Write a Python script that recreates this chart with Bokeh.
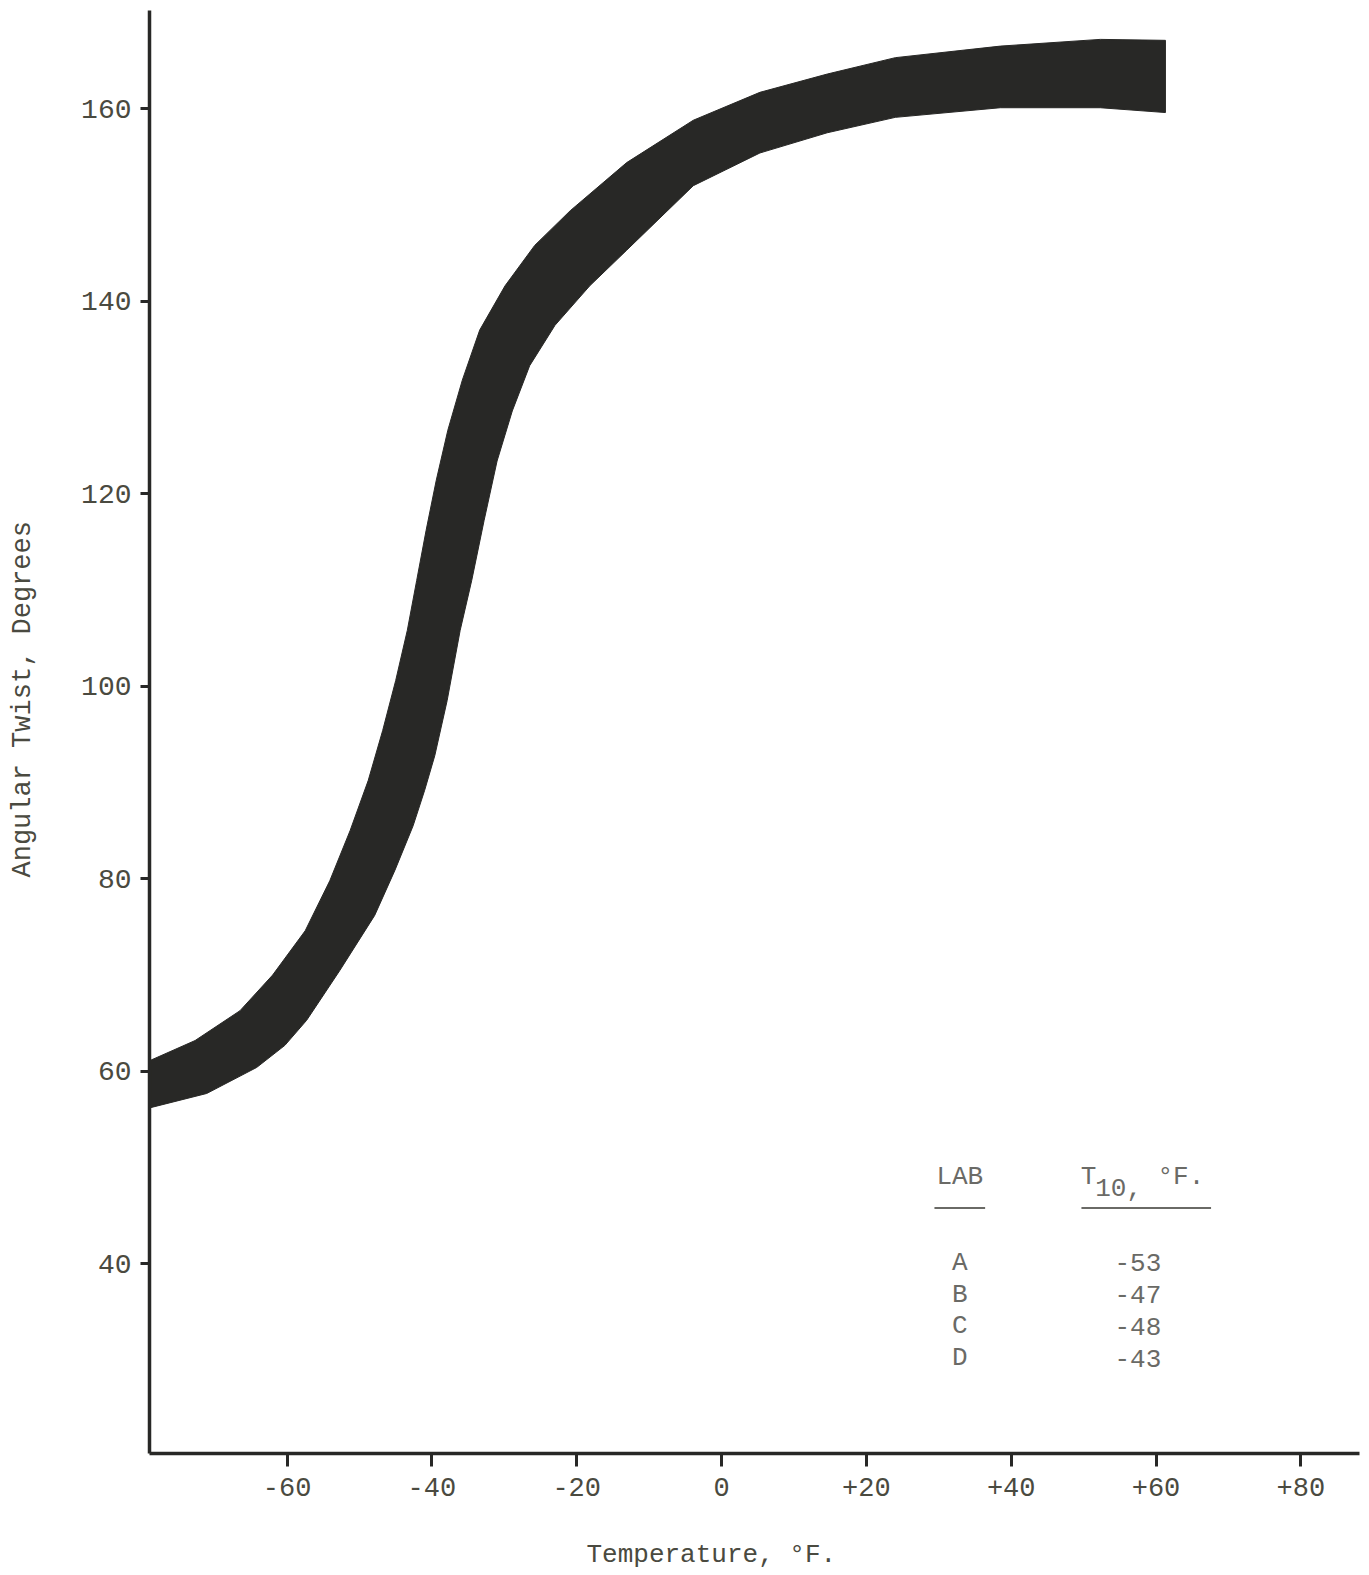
from bokeh.plotting import figure
from bokeh.models import FixedTicker, Range1d, Title
from bokeh.embed import file_html
from bokeh.resources import INLINE
from bokeh.core.properties import value

# ---- data ----
upper_temp = [-79.0, -72.7, -66.5, -62.0, -57.5, -54.1, -51.3, -48.8, -46.8, -45.0, -43.4,
              -42.1, -40.8, -39.4, -37.8, -35.8, -33.4, -29.9, -25.8, -20.9, -13.1, -3.9,
              5.3, 14.6, 24.0, 38.5, 52.3, 61.3]
upper_twist = [61.1, 63.2, 66.3, 70.0, 74.6, 79.8, 85.0, 90.2, 95.4, 100.6, 105.8,
               111.0, 116.2, 121.4, 126.6, 131.8, 137.0, 141.6, 145.8, 149.4, 154.4, 158.8,
               161.7, 163.6, 165.3, 166.5, 167.2, 167.1]
lower_temp = [-79.0, -71.1, -64.2, -60.3, -57.3, -52.7, -47.9, -45.1, -42.6, -41.0, -39.6,
              -37.9, -36.1, -34.5, -32.8, -31.0, -28.9, -26.5, -23.0, -18.2, -13.1, -3.9,
              5.3, 14.6, 24.0, 38.5, 52.3, 61.3]
lower_twist = [56.2, 57.7, 60.4, 62.7, 65.3, 70.5, 76.2, 80.9, 85.5, 89.2, 92.8,
               98.5, 105.8, 111.0, 117.2, 123.4, 128.6, 133.3, 137.5, 141.6, 145.3, 152.0,
               155.4, 157.5, 159.1, 160.1, 160.1, 159.6]

x_ticks = [-60, -40, -20, 0, 20, 40, 60, 80]
x_tick_labels = ["-60", "-40", "-20", "0", "+20", "+40", "+60", "+80"]
y_ticks = [40, 60, 80, 100, 120, 140, 160]
y_tick_labels = ["40", "60", "80", "100", "120", "140", "160"]

labs = ["A", "B", "C", "D"]
t10_values = ["-53", "-47", "-48", "-43"]

FONT = "Liberation Mono"
INK = "#282826"
TXT = "#4a4a40"
TBL = "#6a6a66"

p = figure(width=1369, height=1575, output_backend="svg", toolbar_location=None,
           x_range=Range1d(-79.0, 88.1), y_range=Range1d(20.3, 170.2),
           min_border_left=149, min_border_right=10, min_border_top=10, min_border_bottom=122)
p.outline_line_color = None
p.xgrid.visible = False
p.ygrid.visible = False
p.background_fill_color = "white"
p.border_fill_color = "white"

# band
band_x = upper_temp + lower_temp[::-1]
band_y = upper_twist + lower_twist[::-1]
p.patch(band_x, band_y, fill_color=INK, line_color=INK, line_width=1, line_join="round")

# axes
for ax in (p.xaxis[0], p.yaxis[0]):
    ax.axis_line_color = INK
    ax.axis_line_width = 3.5
    ax.major_tick_line_color = INK
    ax.major_tick_line_width = 3
    ax.major_tick_in = 0
    ax.minor_tick_line_color = None
    ax.major_label_text_font = FONT
    ax.major_label_text_color = TXT

p.xaxis.ticker = FixedTicker(ticks=x_ticks)
p.xaxis.major_label_overrides = {t: s for t, s in zip(x_ticks, x_tick_labels)}
p.xaxis.major_tick_out = 13
p.xaxis.major_label_standoff = 11
p.xaxis.major_label_text_font_size = "27px"

p.yaxis.ticker = FixedTicker(ticks=y_ticks)
p.yaxis.major_label_overrides = {t: s for t, s in zip(y_ticks, y_tick_labels)}
p.yaxis.major_tick_out = 9
p.yaxis.major_label_standoff = 9
p.yaxis.major_label_text_font_size = "28px"

# axis titles, offset to where the reference puts them (a blank spacer pushes each outward)
p.add_layout(Title(text=" ", text_font_size="1px", standoff=34), "below")
p.add_layout(Title(text="Temperature, \u00b0F.", align="left", offset=437, standoff=6,
                   vertical_align="middle", text_font=FONT, text_font_size="26px",
                   text_font_style="normal", text_color=TXT), "below")
p.add_layout(Title(text=" ", text_font_size="1px", standoff=36), "left")
p.add_layout(Title(text="Angular Twist, Degrees", align="left", offset=576, standoff=2,
                   vertical_align="middle", text_font=FONT, text_font_size="27px",
                   text_font_style="normal", text_color=TXT), "left")

# table in lower right
lab_x, val_x = 32.9, 57.5
head_y, rule_y = 49.0, 45.8
row_y = [40.1 - 3.3 * i for i in range(len(labs))]
TSZ = "26px"

p.text(x=[lab_x], y=[head_y], text=["LAB"], text_font=value(FONT), text_font_size=TSZ,
       text_color=TBL, text_align="center", text_baseline="middle")
p.text(x=[49.6], y=[49.0], text=["T"], text_font=value(FONT), text_font_size=TSZ,
       text_color=TBL, text_align="left", text_baseline="middle")
p.text(x=[51.6], y=[47.9], text=["10,"], text_font=value(FONT), text_font_size=TSZ,
       text_color=TBL, text_align="left", text_baseline="middle")
p.text(x=[60.2], y=[49.0], text=["\u00b0F."], text_font=value(FONT), text_font_size=TSZ,
       text_color=TBL, text_align="left", text_baseline="middle")
p.segment(x0=[29.4, 49.7], y0=[rule_y, rule_y], x1=[36.4, 67.6], y1=[rule_y, rule_y],
          line_color=TBL, line_width=2)
p.text(x=[lab_x] * len(labs), y=row_y, text=labs, text_font=value(FONT), text_font_size=TSZ,
       text_color=TBL, text_align="center", text_baseline="middle")
p.text(x=[val_x] * len(labs), y=row_y, text=t10_values, text_font=value(FONT), text_font_size=TSZ,
       text_color=TBL, text_align="center", text_baseline="middle")

open("out.html", "w").write(file_html(p, INLINE))
